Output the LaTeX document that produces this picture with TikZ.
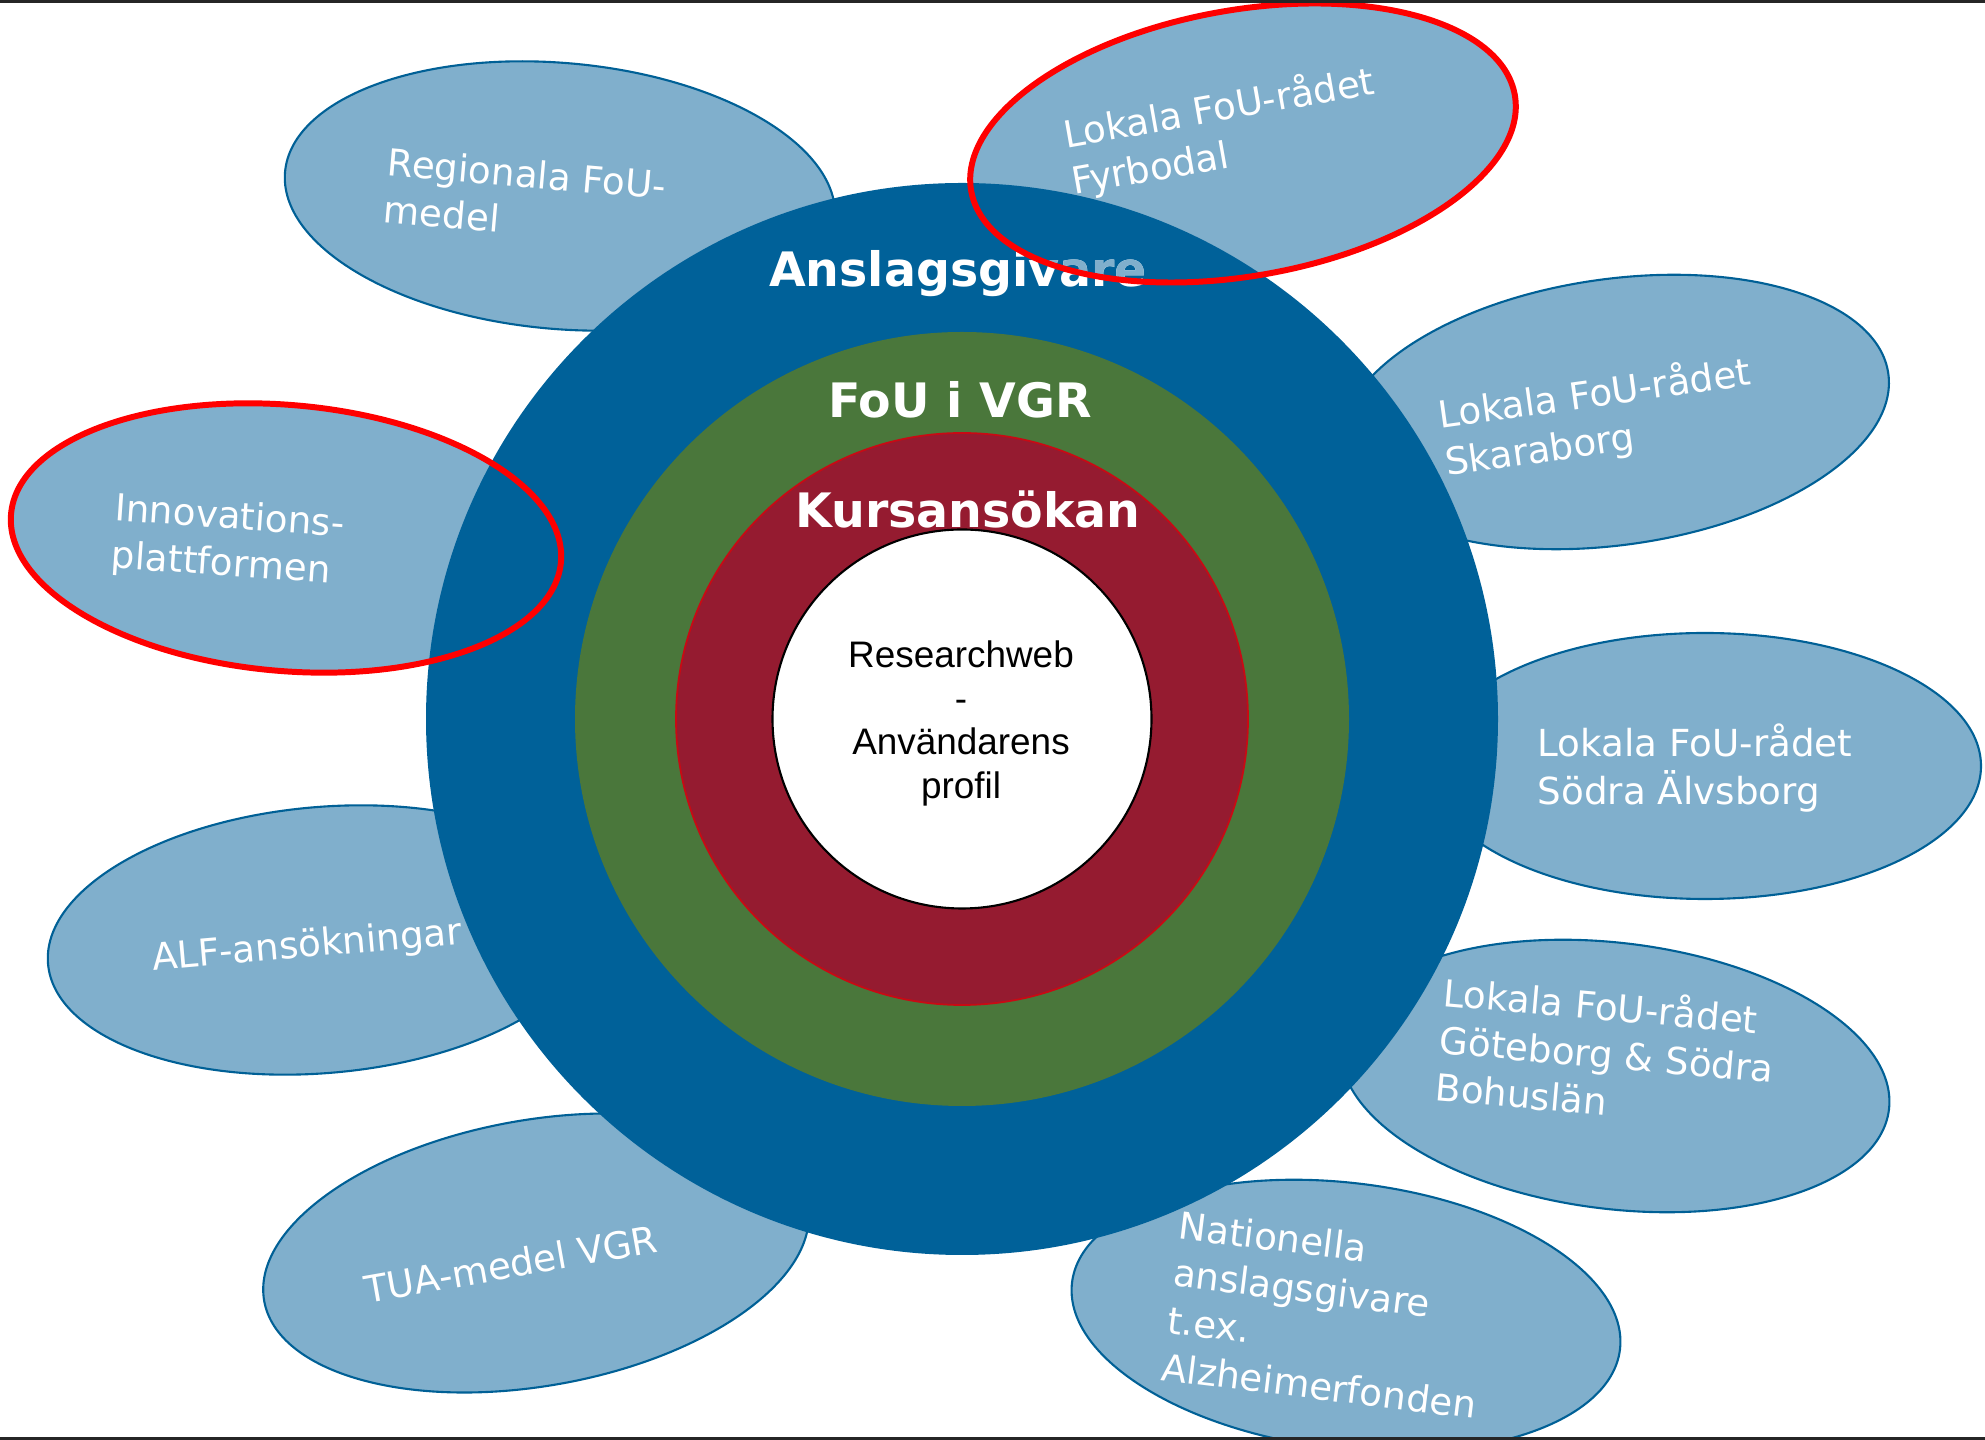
\documentclass[tikz,border=0pt]{standalone}
\usepackage{fontspec}
\setmainfont{DejaVu Sans}
\newfontfamily\arialfont{Liberation Sans}
\usetikzlibrary{shapes.geometric}
\definecolor{anslagblue}{RGB}{0,97,153}
\definecolor{fougreen}{RGB}{74,119,59}
\definecolor{kursred}{RGB}{149,27,48}
\definecolor{kursborder}{RGB}{200,10,20}
\definecolor{fundfill}{RGB}{128,175,204}
\definecolor{funddraw}{RGB}{0,96,150}
\begin{document}
\begin{tikzpicture}[fund/.style={ellipse,draw=funddraw,line width=0.6pt,fill=fundfill,
				minimum width=5.52cm,minimum height=2.66cm,inner sep=0pt},
				fundtext/.style={text=white,align=left,inner sep=0pt,font=\fontsize{10.6}{13.5}\selectfont},
				ring/.style={circle,inner sep=0pt,outer sep=0pt},
				ringlabel/.style={text=white,inner sep=0pt,anchor=base,font=\fontsize{13.5}{16}\selectfont\bfseries},
				marked/.style={ellipse,draw=red,line width=1.7pt,fill=none,
				minimum width=5.52cm,minimum height=2.66cm,inner sep=0pt}]
\useasboundingbox (0,0) rectangle (19.85,14.4);
\clip (0,0) rectangle (19.85,14.4);
\node[fund,rotate=-5] (regional) at (5.60,12.44) {};
\node[fund,rotate=10] (fyrbodal) at (12.43,12.97) {};
\node[fund,rotate=-5] (innov) at (2.86,9.02) {};
\node[fund,rotate=5] (alf) at (3.23,5.00) {};
\node[fund,rotate=10] (tua) at (5.36,1.87) {};
\node[fund,rotate=8] (skara) at (16.15,10.28) {};
\node[fund] (sodra) at (17.05,6.74) {};
\node[fund,rotate=-7] (gbg) at (16.15,3.64) {};
\node[fund,rotate=-7] (nat) at (13.46,1.24) {};
\node[ring,fill=anslagblue,minimum size=10.72cm] (anslag) at (9.62,7.21) {};
\node[ring,fill=fougreen,minimum size=7.74cm] (fou) at (anslag.center) {};
\node[ring,fill=kursred,draw=kursborder,line width=0.5pt,minimum size=5.72cm] (kurs) at (anslag.center) {};
\node[ring,fill=white,draw=black,line width=0.6pt,minimum size=3.79cm] (profil) at (anslag.center) {};
\node[ringlabel] (anslaglbl) at (9.58,11.53) {Anslagsgivare};
\node[ringlabel] (foulbl) at (9.60,10.22) {FoU i VGR};
\node[ringlabel] (kurslbl) at (9.68,9.12) {Kursansökan};
\begin{scope}
\clip[rotate around={10:(fyrbodal.center)}] (fyrbodal.center) ellipse [x radius=2.76cm,y radius=1.33cm];
\node[ringlabel,text=fundfill] at (anslaglbl.base) {Anslagsgivare};
\end{scope}
\node[marked,rotate=10] (fyrbodalmark) at (fyrbodal.center) {};
\node[marked,rotate=-5] (innovmark) at (innov.center) {};
\node[inner sep=0pt,align=center,font=\arialfont\fontsize{10.5}{12.5}\selectfont] (profiltxt) at (9.61,7.165)
	{Researchweb\\-\\Användarens\\profil};
\node[fundtext,rotate=-5] (regionaltxt) at (5.25,12.43) {Regionala FoU-\\medel};
\node[fundtext,rotate=10] (fyrbodaltxt) at (12.23,13.08) {Lokala FoU-rådet\\Fyrbodal};
\node[fundtext,rotate=-4] (innovtxt) at (2.28,8.98) {Innovations-\\plattformen};
\node[fundtext,rotate=5] (alftxt) at (3.07,4.93) {ALF-ansökningar};
\node[fundtext,rotate=10] (tuatxt) at (5.11,1.76) {TUA-medel VGR};
\node[fundtext,rotate=8] (skaratxt) at (15.98,10.22) {Lokala FoU-rådet\\Skaraborg};
\node[fundtext] (sodratxt) at (16.95,6.72) {Lokala FoU-rådet\\Södra Älvsborg};
\node[fundtext,rotate=-5] (gbgtxt) at (16.07,3.88) {Lokala FoU-rådet\\Göteborg \& Södra\\Bohuslän};
\node[fundtext,rotate=-7] (nattxt) at (13.28,1.25) {Nationella\\anslagsgivare\\t.ex.\\Alzheimerfonden};
\draw[line width=0.85pt,black!85] (0,14.385) -- (19.85,14.385);
\draw[line width=0.85pt,black!85] (0,0.015) -- (19.85,0.015);
\end{tikzpicture}
\end{document}
